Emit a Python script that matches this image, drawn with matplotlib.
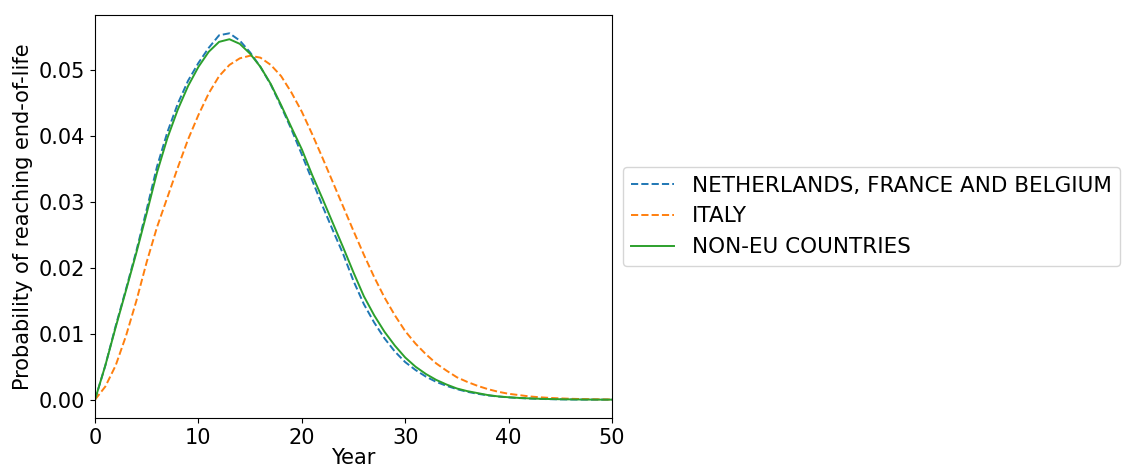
import matplotlib
matplotlib.use("Agg")
import matplotlib.pyplot as plt

years = list(range(0, 51))

nfb = [0.0, 0.0052, 0.0112, 0.0168, 0.0226, 0.0289, 0.0354, 0.0406, 0.0449, 0.0484,
       0.0511, 0.0534, 0.0553, 0.0556, 0.0545, 0.0527, 0.0505, 0.0478, 0.0445, 0.0410,
       0.0372, 0.0333, 0.0294, 0.0257, 0.0221, 0.0180, 0.0145, 0.0117, 0.0093, 0.0073,
       0.0057, 0.0045, 0.0035, 0.0027, 0.0021, 0.0016, 0.0012, 0.0009, 0.00065, 0.00048,
       0.00035, 0.00025, 0.00018, 0.00012, 0.00008, 0.00005, 0.00003, 0.00002, 0.00001, 0.00001,
       0.0]

italy = [0.0, 0.0020, 0.0052, 0.0097, 0.0150, 0.0209, 0.0262, 0.0307, 0.0352, 0.0395,
         0.0432, 0.0465, 0.0491, 0.0508, 0.0518, 0.0522, 0.0519, 0.0508, 0.0491, 0.0466,
         0.0437, 0.0403, 0.0367, 0.0330, 0.0293, 0.0256, 0.0220, 0.0186, 0.0155, 0.0128,
         0.0104, 0.0085, 0.0069, 0.0055, 0.0044, 0.0034, 0.0027, 0.0021, 0.0016, 0.0012,
         0.0009, 0.0007, 0.0005, 0.00037, 0.00027, 0.0002, 0.00014, 0.0001, 0.00007, 0.00005,
         0.00003]

non_eu = [0.0, 0.0052, 0.0110, 0.0166, 0.0223, 0.0283, 0.0345, 0.0397, 0.0440, 0.0476,
          0.0505, 0.0528, 0.0543, 0.0547, 0.0540, 0.0525, 0.0505, 0.0479, 0.0447, 0.0413,
          0.0380, 0.0341, 0.0305, 0.0268, 0.0231, 0.0193, 0.0157, 0.0128, 0.0103, 0.0082,
          0.0064, 0.0050, 0.0039, 0.0030, 0.0023, 0.0017, 0.0013, 0.0010, 0.0007, 0.0005,
          0.00037, 0.00027, 0.0002, 0.00014, 0.0001, 0.00007, 0.00005, 0.00003, 0.00002, 0.00001,
          0.00001]

labels = ["NETHERLANDS, FRANCE AND BELGIUM", "ITALY", "NON-EU COUNTRIES"]

fig = plt.figure(figsize=(11.23, 4.68), dpi=100)
ax = fig.add_axes([0.0846, 0.1068, 0.4604, 0.8612])

ax.plot(years, nfb, linestyle="--", color="#1f77b4", lw=1.4, label=labels[0])
ax.plot(years, italy, linestyle="--", color="#ff7f0e", lw=1.4, label=labels[1])
ax.plot(years, non_eu, linestyle="-", color="#2ca02c", lw=1.4, label=labels[2])

ax.set_xlim(0, 50)
ax.set_xticks([0, 10, 20, 30, 40, 50])
ax.tick_params(labelsize=15)
ax.set_xlabel("Year", fontsize=15, labelpad=0)
ax.set_ylabel("Probability of reaching end-of-life", fontsize=15)
ax.legend(loc="center left", bbox_to_anchor=(1, 0.5), fontsize=15.5)

fig.savefig("out.png", dpi=100)
